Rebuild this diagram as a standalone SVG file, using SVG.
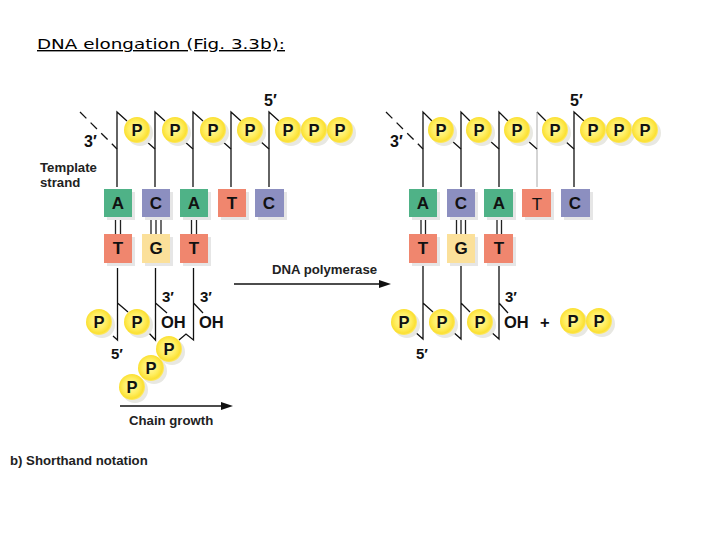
<svg xmlns="http://www.w3.org/2000/svg" width="720" height="540" viewBox="0 0 720 540">
<style>
text{font-family:"Liberation Sans",Arial,sans-serif;fill:#111}
.title{font-family:"DejaVu Sans",Verdana,sans-serif;font-size:14px;text-decoration:underline;fill:#000}
.p{font-size:16.500px;font-weight:bold;text-anchor:middle}
.b{font-size:17px;font-weight:bold;text-anchor:middle}
.n{font-size:16px;font-weight:bold}
.m{font-size:15px;font-weight:bold}
.l{font-size:13.200px;font-weight:bold;fill:#222}
.oh{font-size:16.500px;font-weight:bold}
.line{stroke:#111;stroke-width:1.300;fill:none}
.hb{stroke:#222;stroke-width:1.300;fill:none}
.g{fill:#4fb287}.v{fill:#8c8fc0}.r{fill:#f0866e}.y{fill:#fbe09a}
.sh{fill:#e6e6e6}
</style>
<defs>
<radialGradient id="ballfill" cx="0.47" cy="0.47" r="0.55">
<stop offset="0" stop-color="#fff9a8"/><stop offset="0.55" stop-color="#ffee60"/><stop offset="0.85" stop-color="#fbe033"/><stop offset="1" stop-color="#fdeb78"/>
</radialGradient>
<g id="ball"><circle cx="3" cy="3" r="13" fill="#e8e8e2"/><circle r="13" fill="url(#ballfill)"/></g>
<path id="head" d="M0 0L-12 -4L-12 4Z" fill="#111"/>
</defs>

<text class="title" x="37" y="49" textLength="248" lengthAdjust="spacingAndGlyphs">DNA elongation (Fig. 3.3b):</text>

<g id="connectors">
<path class="line" d="M117 187V112L127 121M155 187V112L165 121M193 187V112L203 121M231 187V112L241 121M269 187V112L279 121"/>
<path class="line" d="M146 141L155 149M184 141L193 149M222 141L231 149M260 141L269 149"/>
<path class="line" d="M80 112L117 149" stroke-dasharray="9 6"/>
<path class="hb" d="M115.500 218V234M120.500 218V234M151 218V234M156 218V234M161 218V234M191.500 218V234M196.500 218V234"/>
<path class="line" d="M117.500 268V340L113 336M117.500 303L128 312M155.500 268V340L147 331M155.500 303L167 313M193.500 268V340L186 334L179 340M193.500 303L203 313"/>
<path class="line" d="M234 284H381"/><use href="#head" x="391" y="284"/>
<path class="line" d="M120 406H224"/><use href="#head" x="233" y="406"/>
<path class="line" d="M423 187V112L432 121M461 187V112L470 121M499 187V112L508 121M574 187V112L584 121"/>
<path class="line" d="M537 112L546 121"/>
<path d="M537 187V112" stroke="#aaa" stroke-width="1" fill="none"/>
<path class="line" d="M452 141L461 149M490 141L499 149M528 141L537 149M565 141L574 149"/>
<path class="line" d="M386 112L423 149" stroke-dasharray="9 6"/>
<path class="hb" d="M421 218V234M425.500 218V234M456.500 218V234M461 218V234M465.500 218V234M497 218V234M501.500 218V234"/>
<path class="line" d="M423 265V339L414 331M423 303L433 312M461 265V339L452 331M461 303L470 312M499 265V339L490 331M499 303L508 313"/>
</g>

<g id="labels-left">
<text class="n" x="264" y="106">5′</text>
<text class="n" x="84" y="147">3′</text>
<text class="l" x="40" y="172">Template</text>
<text class="l" x="40" y="187">strand</text>
<text class="l" x="272" y="274">DNA polymerase</text>
<text class="m" x="162" y="302">3′</text>
<text class="m" x="200" y="302">3′</text>
<text class="oh" x="161" y="328">OH</text>
<text class="oh" x="199" y="328">OH</text>
<text class="m" x="111" y="359">5′</text>
<text class="l" x="129" y="425">Chain growth</text>
<text class="l" x="10" y="465">b) Shorthand notation</text>
</g>
<g id="labels-right">
<text class="n" x="570" y="106">5′</text>
<text class="n" x="390" y="147">3′</text>
<text class="m" x="505" y="302">3′</text>
<text class="oh" x="504" y="328">OH</text>
<text class="oh" x="540" y="328">+</text>
<text class="m" x="416" y="359">5′</text>
</g>

<g id="bases-left">
<g id="bl1"><rect class="sh" x="107" y="192" width="28" height="28"/><rect class="g" x="104" y="189" width="28" height="28"/><text class="b" x="118" y="209">A</text></g>
<g id="bl2"><rect class="sh" x="145" y="192" width="28" height="28"/><rect class="v" x="142" y="189" width="28" height="28"/><text class="b" x="156" y="209">C</text></g>
<g id="bl3"><rect class="sh" x="183" y="192" width="28" height="28"/><rect class="g" x="180" y="189" width="28" height="28"/><text class="b" x="194" y="209">A</text></g>
<g id="bl4"><rect class="sh" x="221" y="192" width="28" height="28"/><rect class="r" x="218" y="189" width="28" height="28"/><text class="b" x="232" y="209">T</text></g>
<g id="bl5"><rect class="sh" x="258" y="192" width="29" height="28"/><rect class="v" x="255" y="189" width="29" height="28"/><text class="b" x="269" y="209">C</text></g>
<g id="bl6"><rect class="sh" x="107" y="237" width="28" height="29"/><rect class="r" x="104" y="234" width="28" height="29"/><text class="b" x="118" y="254">T</text></g>
<g id="bl7"><rect class="sh" x="145" y="237" width="28" height="29"/><rect class="y" x="142" y="234" width="28" height="29"/><text class="b" x="156" y="254">G</text></g>
<g id="bl8"><rect class="sh" x="183" y="237" width="28" height="29"/><rect class="r" x="180" y="234" width="28" height="29"/><text class="b" x="194" y="254">T</text></g>
</g>
<g id="bases-right">
<g id="br1"><rect class="sh" x="412" y="192" width="28" height="28"/><rect class="g" x="409" y="189" width="28" height="28"/><text class="b" x="423" y="209">A</text></g>
<g id="br2"><rect class="sh" x="450" y="192" width="28" height="28"/><rect class="v" x="447" y="189" width="28" height="28"/><text class="b" x="461" y="209">C</text></g>
<g id="br3"><rect class="sh" x="487" y="192" width="29" height="28"/><rect class="g" x="484" y="189" width="29" height="28"/><text class="b" x="499" y="209">A</text></g>
<g id="br4"><rect class="sh" x="525" y="192" width="29" height="28"/><rect class="r" x="522" y="189" width="29" height="28"/><text x="537" y="210" text-anchor="middle" style="font-size:17px">T</text></g>
<g id="br5"><rect class="sh" x="564" y="192" width="29" height="28"/><rect class="v" x="561" y="189" width="29" height="28"/><text class="b" x="575" y="209">C</text></g>
<g id="br6"><rect class="sh" x="412" y="237" width="28" height="29"/><rect class="r" x="409" y="234" width="28" height="29"/><text class="b" x="423" y="254">T</text></g>
<g id="br7"><rect class="sh" x="450" y="237" width="28" height="29"/><rect class="y" x="447" y="234" width="28" height="29"/><text class="b" x="461" y="254">G</text></g>
<g id="br8"><rect class="sh" x="487" y="237" width="29" height="29"/><rect class="r" x="484" y="234" width="29" height="29"/><text class="b" x="499" y="254">T</text></g>
</g>

<g id="phosphates-left">
<g id="pl1"><use href="#ball" x="137" y="130"/><text class="p" x="137" y="136">P</text></g>
<g id="pl2"><use href="#ball" x="175" y="130"/><text class="p" x="175" y="136">P</text></g>
<g id="pl3"><use href="#ball" x="213" y="130"/><text class="p" x="213" y="136">P</text></g>
<g id="pl4"><use href="#ball" x="250" y="130"/><text class="p" x="250" y="136">P</text></g>
<g id="pl5"><use href="#ball" x="288" y="130"/><text class="p" x="288" y="136">P</text></g>
<g id="pl6"><use href="#ball" x="314" y="130"/><text class="p" x="314" y="136">P</text></g>
<g id="pl7"><use href="#ball" x="340" y="130"/><text class="p" x="340" y="136">P</text></g>
<g id="pl8"><use href="#ball" x="99" y="322"/><text class="p" x="99" y="328">P</text></g>
<g id="pl9"><use href="#ball" x="137" y="322"/><text class="p" x="137" y="328">P</text></g>
<g id="pl12"><use href="#ball" x="132" y="387"/><text class="p" x="132" y="393">P</text></g>
<g id="pl11"><use href="#ball" x="151" y="368"/><text class="p" x="151" y="374">P</text></g>
<g id="pl10"><use href="#ball" x="169" y="349"/><text class="p" x="169" y="355">P</text></g>
</g>
<g id="phosphates-right">
<g id="pr1"><use href="#ball" x="441" y="130"/><text class="p" x="441" y="136">P</text></g>
<g id="pr2"><use href="#ball" x="479" y="130"/><text class="p" x="479" y="136">P</text></g>
<g id="pr3"><use href="#ball" x="517" y="130"/><text class="p" x="517" y="136">P</text></g>
<g id="pr4"><use href="#ball" x="555" y="130"/><text class="p" x="555" y="136">P</text></g>
<g id="pr5"><use href="#ball" x="593" y="130"/><text class="p" x="593" y="136">P</text></g>
<g id="pr6"><use href="#ball" x="619" y="130"/><text class="p" x="619" y="136">P</text></g>
<g id="pr7"><use href="#ball" x="645" y="130"/><text class="p" x="645" y="136">P</text></g>
<g id="pr8"><use href="#ball" x="404" y="322"/><text class="p" x="404" y="328">P</text></g>
<g id="pr9"><use href="#ball" x="442" y="322"/><text class="p" x="442" y="328">P</text></g>
<g id="pr10"><use href="#ball" x="480" y="322"/><text class="p" x="480" y="328">P</text></g>
<g id="pr11"><use href="#ball" x="573" y="321"/><text class="p" x="573" y="327">P</text></g>
<g id="pr12"><use href="#ball" x="599" y="321"/><text class="p" x="599" y="327">P</text></g>
</g>
</svg>
